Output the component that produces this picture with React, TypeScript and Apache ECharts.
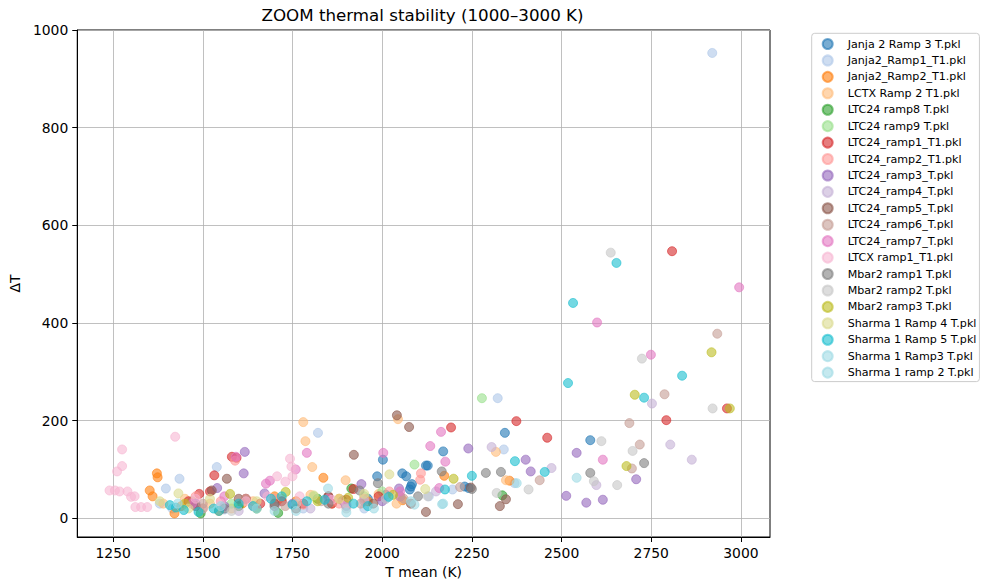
import React, { useEffect, useRef } from 'react';
import * as echarts from 'echarts';

const seriesNames = [
  'Janja 2 Ramp 3 T.pkl', 'Janja2_Ramp1_T1.pkl', 'Janja2_Ramp2_T1.pkl', 'LCTX Ramp 2 T1.pkl',
  'LTC24 ramp8 T.pkl', 'LTC24 ramp9 T.pkl', 'LTC24_ramp1_T1.pkl', 'LTC24_ramp2_T1.pkl',
  'LTC24_ramp3_T.pkl', 'LTC24_ramp4_T.pkl', 'LTC24_ramp5_T.pkl', 'LTC24_ramp6_T.pkl',
  'LTC24_ramp7_T.pkl', 'LTCX ramp1_T1.pkl', 'Mbar2 ramp1 T.pkl', 'Mbar2 ramp2 T.pkl',
  'Mbar2 ramp3 T.pkl', 'Sharma 1 Ramp 4 T.pkl', 'Sharma 1 Ramp 5 T.pkl', 'Sharma 1 Ramp3 T.pkl',
  'Sharma 1 ramp 2 T.pkl',
];

const seriesColors = [
  '#1f77b4', '#aec7e8', '#ff7f0e', '#ffbb78', '#2ca02c', '#98df8a', '#d62728', '#ff9896',
  '#9467bd', '#c5b0d5', '#8c564b', '#c49c94', '#e377c2', '#f7b6d2', '#7f7f7f', '#c7c7c7',
  '#bcbd22', '#dbdb8d', '#17becf', '#9edae5', '#9edae5',
];

// [T mean (K), ΔT]
const janja2Ramp3 = [[2002,120],[1986,86],[2056,92],[2067,86],[2083,70],[2077,59],[2122,108],[2342,175],[2170,137],[2127,108],[2580,160],[2241,62],[2080,65],[1960,40],[2010,48],[1890,36],[2230,65]];
const janja2Ramp1 = [[2920,953],[1821,175],[2322,246],[2339,141],[2369,72],[1435,81],[1539,105],[1397,61],[1380,30],[1415,20],[1480,25],[1560,18],[1650,22],[1720,35],[1780,20],[1900,28],[1950,20],[2010,40],[2196,59],[2130,45]];
const janja2Ramp2 = [[1372,92],[1374,84],[1352,57],[1421,10],[1836,83],[2057,37],[2173,87],[2355,77],[1360,45],[1440,25],[1500,20],[1545,15],[1610,30],[1700,45],[1760,35],[1880,40],[1960,35]];
const lctxRamp2 = [[1780,197],[1786,158],[1805,105],[1898,78],[2044,203],[2317,136],[2345,78],[1390,30],[1450,40],[1520,30],[1580,20],[1640,35],[1720,40],[1800,48],[1860,30],[1990,50],[2040,30]];
const ltc24Ramp8 = [[1494,10],[1710,11],[2335,47],[1914,61],[1600,25],[1820,40],[1650,20]];
const ltc24Ramp9 = [[2278,246],[2090,110],[1810,45],[1950,45],[1470,35],[1580,30],[2000,55]];
const ltc24Ramp1 = [[2808,547],[2792,201],[2961,225],[2374,199],[2460,165],[2192,186],[1581,126],[1594,124],[1532,88],[1490,50],[1460,35],[1520,55],[1620,40],[1660,30],[1720,35],[1780,30],[1850,45],[1900,38],[1920,60],[1990,45],[2050,45],[1860,30]];
const ltc24Ramp2 = [[2106,79],[2108,92],[1480,45],[1550,35],[1640,25],[1700,40],[1780,28],[1880,30],[1950,40],[2020,55],[1590,118]];
const ltc24Ramp3 = [[1617,136],[1614,92],[2240,143],[2400,120],[2414,96],[2542,134],[2513,46],[2569,32],[2615,38],[2708,80],[1942,70],[2047,61],[1672,51],[1480,30],[1540,62],[1560,25],[1750,30],[1900,25],[2000,35]];
const ltc24Ramp4 = [[2863,120],[2803,151],[2752,235],[2472,103],[2305,146],[2597,68],[1500,20],[1600,15],[1700,25],[1800,20],[1950,35],[2050,45],[2150,55]];
const ltc24Ramp5 = [[1567,81],[1525,57],[2041,211],[2075,187],[1921,130],[2122,13],[2211,29],[2328,25],[2345,39],[2247,63],[1600,40],[1700,30],[1850,45],[1975,30],[2080,30],[1480,25],[1760,20]];
const ltc24Ramp6 = [[2934,378],[2787,254],[2689,195],[2696,102],[2718,151],[2439,78],[2217,64],[1500,30],[1620,40],[1730,25],[1830,35],[1940,30],[2060,40]];
const ltc24Ramp7 = [[2995,473],[2599,401],[2749,335],[2615,120],[2164,177],[2134,148],[2176,116],[2159,62],[2003,134],[1790,134],[1759,100],[1687,77],[1676,71],[1592,126],[1470,30],[1560,45],[1850,40],[2050,55]];
const ltcxRamp1 = [[1423,167],[1275,141],[1275,107],[1261,96],[1240,57],[1255,57],[1268,55],[1290,55],[1300,44],[1310,45],[1312,23],[1328,23],[1345,23],[1743,122],[1747,106],[1707,86],[1750,86],[1730,75],[1480,40],[1550,30],[1620,35],[1680,45],[1770,45],[1860,38],[1900,30]];
const mbar2Ramp1 = [[2166,96],[2289,93],[2331,95],[2580,93],[2730,113],[1988,72],[1937,57],[1560,20],[1700,25],[1850,30],[2100,45],[2250,60]];
const mbar2Ramp2 = [[2637,544],[2921,225],[2611,158],[2698,138],[2655,68],[2724,327],[2590,76],[2408,59],[2319,52],[2127,45],[1580,15],[1760,30],[1900,20],[2010,40]];
const mbar2Ramp3 = [[2918,340],[2704,253],[2969,225],[2681,107],[2199,81],[1905,42],[1731,54],[1576,50],[1450,30],[1820,35],[2030,48]];
const sharma1Ramp4 = [[1432,51],[1809,47],[2020,90],[1380,35],[1460,20],[1520,40],[1650,35],[1880,40],[1950,50],[2120,60]];
const sharma1Ramp5 = [[2653,523],[2532,441],[2518,277],[2836,292],[2730,247],[2370,117],[2453,95],[2250,87],[2175,59],[2018,44],[1408,27],[1425,22],[1447,17],[1488,13],[1530,20],[1545,15],[1600,30],[1640,25],[1690,40],[1720,45],[1750,28],[1790,35],[1840,38],[1920,30],[1960,25]];
const sharma1Ramp3 = [[2167,29],[2542,83],[1849,61],[1977,20],[2375,72],[1430,30],[1650,20],[1760,15],[2080,35]];
const sharma1Ramp2 = [[2090,28],[1900,12],[1700,15],[1550,25],[2170,30]];

const seriesData = [
  janja2Ramp3, janja2Ramp1, janja2Ramp2, lctxRamp2, ltc24Ramp8, ltc24Ramp9, ltc24Ramp1,
  ltc24Ramp2, ltc24Ramp3, ltc24Ramp4, ltc24Ramp5, ltc24Ramp6, ltc24Ramp7, ltcxRamp1,
  mbar2Ramp1, mbar2Ramp2, mbar2Ramp3, sharma1Ramp4, sharma1Ramp5, sharma1Ramp3, sharma1Ramp2,
];

const xTicks = [1250, 1500, 1750, 2000, 2250, 2500, 2750, 3000];
const yTicks = [0, 200, 400, 600, 800, 1000];

const FONT = 'DejaVu Sans';

export default function App() {
  const ref = useRef<HTMLDivElement>(null);
  useEffect(() => {
    const chart = echarts.init(ref.current!, null, { renderer: 'svg' });
    const axisCommon = {
      type: 'value' as const,
      axisLine: { show: true, onZero: false, lineStyle: { color: '#000', width: 1 } },
      axisTick: { show: true, length: 5, lineStyle: { color: '#000', width: 1 } },
      axisLabel: { color: '#000', fontFamily: FONT, fontSize: 13.9, margin: 9, formatter: (v: number) => String(v) },
      splitLine: { show: true, lineStyle: { color: '#b0b0b0', width: 0.8 } },
      nameTextStyle: { color: '#000', fontFamily: FONT, fontSize: 13.9 },
    };
    chart.setOption({
      animation: false,
      backgroundColor: '#fff',
      grid: { left: 75, right: 211, top: 30, bottom: 49, show: true, borderColor: '#000', borderWidth: 1, backgroundColor: 'transparent' },
      graphic: [
        { type: 'text', x: 422.5, y: 15, style: { text: 'ZOOM thermal stability (1000–3000 K)', fill: '#000', font: `16.7px "${FONT}"`, textAlign: 'center', textVerticalAlign: 'middle' } },
      ],
      xAxis: {
        ...axisCommon,
        min: 1150, max: 3081,
        name: 'T mean (K)', nameLocation: 'middle', nameGap: 28,
        axisLabel: { ...axisCommon.axisLabel, customValues: xTicks },
        axisTick: { ...axisCommon.axisTick, customValues: xTicks },
      },
      yAxis: {
        ...axisCommon,
        min: -38.3, max: 1000,
        name: 'ΔT', nameLocation: 'middle', nameGap: 47,
        axisLabel: { ...axisCommon.axisLabel, customValues: yTicks },
        axisTick: { ...axisCommon.axisTick, customValues: yTicks },
      },
      legend: {
        orient: 'vertical', left: 811.7, top: 33.3,
        padding: [4.7, 3, 3, 10],
        itemWidth: 10, itemHeight: 10, itemGap: 4.43,
        backgroundColor: '#fff', borderColor: '#cccccc', borderWidth: 1, borderRadius: 3,
        selectedMode: false,
        textStyle: { color: '#000', fontFamily: FONT, fontSize: 11.1, lineHeight: 12, padding: [0, 0, 0, 10] },
        data: seriesNames.map((n) => ({ name: n, icon: 'circle' })),
      },
      series: seriesNames.map((name, i) => ({
        name,
        type: 'scatter',
        data: seriesData[i],
        symbol: 'circle',
        symbolSize: 9,
        itemStyle: { color: seriesColors[i], opacity: 0.6, borderColor: seriesColors[i], borderWidth: 1 },
        emphasis: { disabled: true },
      })),
    });
    return () => chart.dispose();
  }, []);
  return <div ref={ref} style={{ position: 'fixed', left: 0, top: 0, width: 981, height: 586 }} />;
}
